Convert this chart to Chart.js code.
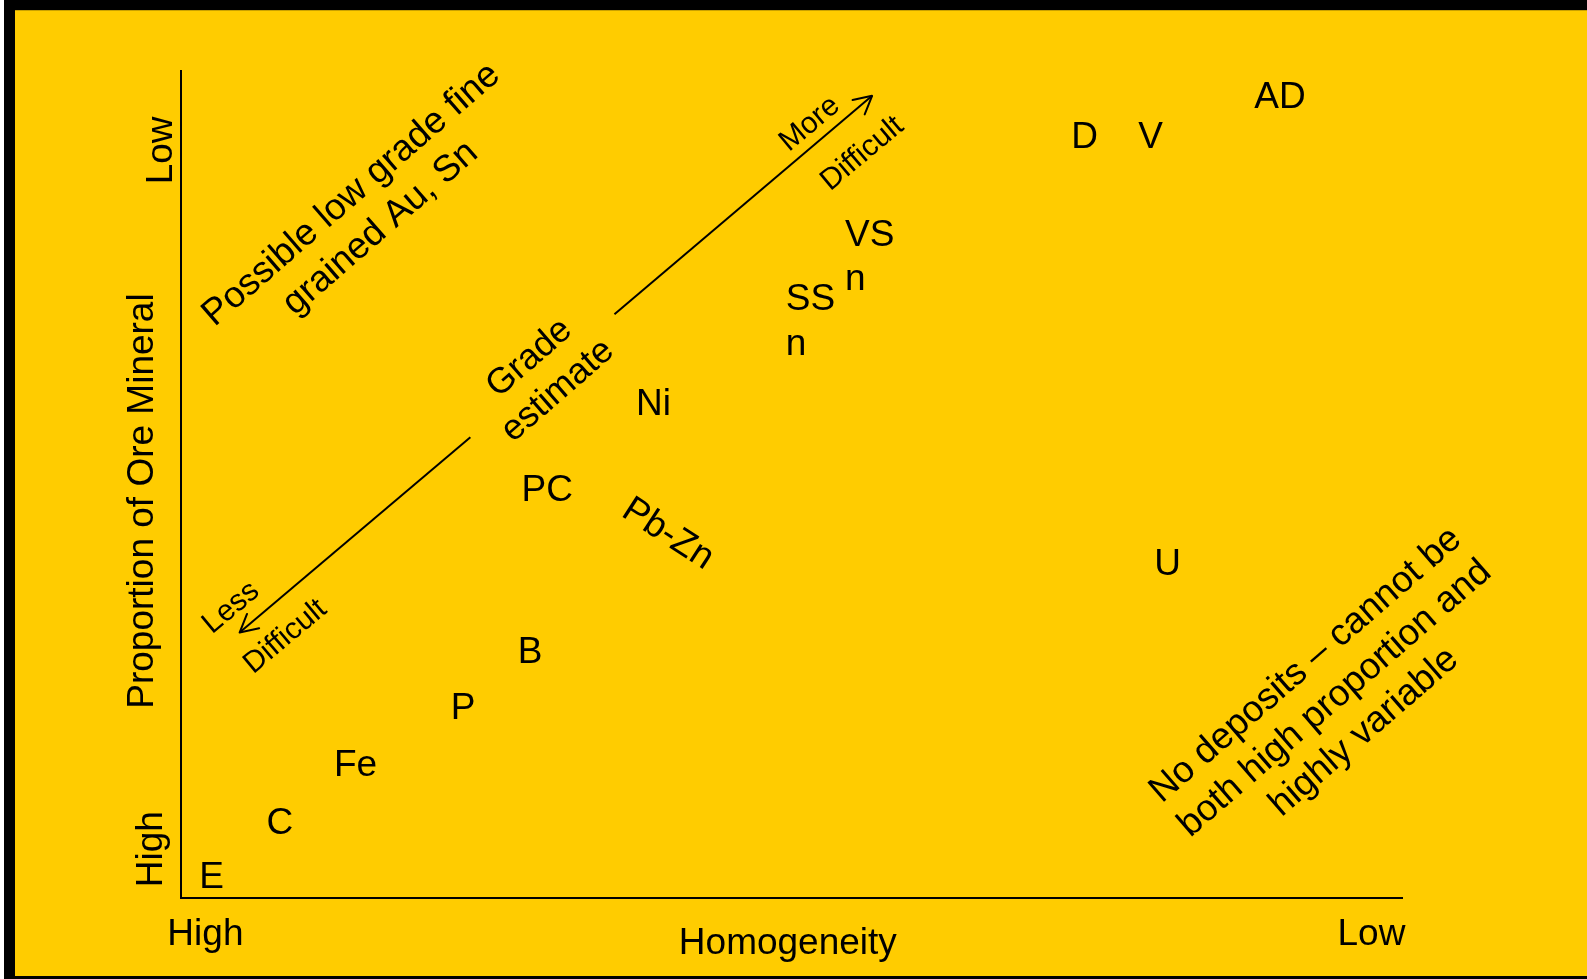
<!DOCTYPE html>
<html>
<head>
<meta charset="utf-8">
<script src="https://cdn.jsdelivr.net/npm/chart.js@4.4.0/dist/chart.umd.min.js"></script>
<style>
html,body{margin:0;padding:0;background:#fff;overflow:hidden}
#wrap{width:1587px;height:979px;position:relative}
canvas{display:block}
</style>
</head>
<body>
<div id="wrap"><canvas id="c" width="1587" height="979"></canvas></div>
<script>
// ---------------- data ----------------
const xTickValues = [0.2, 9.75];
const xTickLabels = ['High', 'Low'];
const yTickValues = [0.59, 9.04];
const yTickLabels = ['High', 'Low'];
const xAxisTitle = 'Homogeneity';
const yAxisTitle = 'Proportion of Ore Mineral';

const depositNames = ['E', 'C', 'Fe', 'P', 'B', 'PC', 'Ni', 'SS\nn', 'VS\nn', 'D', 'V', 'AD', 'U', 'Pb-Zn'];
const depositX = [0.25, 0.81, 1.43, 2.31, 2.86, 3.0, 3.87, 5.155, 5.64, 7.40, 7.94, 9.0, 8.08, 4.0];
const depositY = [0.28, 0.94, 1.63, 2.32, 3.0, 4.96, 6.0, 7.0, 7.78, 9.23, 9.23, 9.71, 4.06, 4.43];

const arrowUpX = [3.55, 5.66];
const arrowUpY = [7.06, 9.70];
const arrowDownX = [2.37, 0.48];
const arrowDownY = [5.57, 3.21];

const noteTexts = [
  'Possible low grade fine\ngrained Au, Sn',
  'Grade\nestimate',
  'More',
  'Difficult',
  'Less',
  'Difficult',
  'No deposits \u2013 cannot be\nboth high proportion and\nhighly variable'
];
const noteX = [1.515, 2.97, 5.15, 5.58, 0.41, 0.855, 9.45];
const noteY = [8.30, 6.33, 9.36, 9.0, 3.51, 3.16, 2.41];

// ---------------- styles ----------------
const FONT = '"Liberation Sans", Arial, Helvetica, sans-serif';
const depositStyle = { size: 37, angleFor: { 'Pb-Zn': 33 } };
const noteStyle = [
  { size: 37, angle: -41 },
  { size: 36, angle: -41 },
  { size: 30, angle: -40 },
  { size: 30, angle: -40 },
  { size: 30, angle: -40 },
  { size: 30, angle: -40 },
  { size: 37, angle: -41 }
];
const yTickGap = { High: 19, Low: 9 };

const bgPlugin = {
  id: 'bg',
  beforeDraw(chart) {
    const ctx = chart.ctx, W = chart.width, H = chart.height;
    ctx.save();
    ctx.fillStyle = '#ffffff'; ctx.fillRect(0, 0, W, H);
    ctx.fillStyle = '#000000'; ctx.fillRect(4, 0, W - 4, H);
    ctx.fillStyle = '#FFCC00'; ctx.fillRect(15, 10, W - 15, 966);
    ctx.fillStyle = '#C9A100'; ctx.fillRect(15, 10, W - 15, 1);
    ctx.restore();
  }
};

function drawBlock(ctx, text, x, y, size, angleDeg, align) {
  const lines = text.split('\n');
  const lh = size * 1.2;
  ctx.save();
  ctx.translate(x, y);
  ctx.rotate(angleDeg * Math.PI / 180);
  ctx.font = size + 'px ' + FONT;
  ctx.fillStyle = '#000';
  const n = lines.length;
  if (align === 'left') {
    const w = Math.max(...lines.map(l => ctx.measureText(l).width));
    ctx.textAlign = 'left';
    ctx.textBaseline = 'alphabetic';
    const cap = size * 0.716;
    lines.forEach((l, i) => ctx.fillText(l, -w / 2, cap / 2 + (i - (n - 1) / 2) * lh));
  } else {
    ctx.textAlign = 'center';
    ctx.textBaseline = 'middle';
    lines.forEach((l, i) => ctx.fillText(l, 0, (i - (n - 1) / 2) * lh));
  }
  ctx.restore();
}

const labelPlugin = {
  id: 'labels',
  afterDraw(chart) {
    const ctx = chart.ctx, xs = chart.scales.x, ys = chart.scales.y, ca = chart.chartArea;
    ctx.save();
    ctx.fillStyle = '#000';
    ctx.font = '37px ' + FONT;
    // x tick labels
    ctx.textAlign = 'center'; ctx.textBaseline = 'alphabetic';
    xs.ticks.forEach((t, i) => ctx.fillText(xTickLabels[i], xs.getPixelForValue(t.value), ca.bottom + 47));
    // x title
    ctx.fillText(xAxisTitle, xs.getPixelForValue(4.97), ca.bottom + 56);
    // y tick labels (rotated)
    ys.ticks.forEach((t, i) => {
      const lab = yTickLabels[i];
      ctx.save();
      ctx.translate(ca.left - yTickGap[lab], ys.getPixelForValue(t.value));
      ctx.rotate(-Math.PI / 2);
      ctx.textAlign = 'center'; ctx.textBaseline = 'alphabetic';
      ctx.fillText(lab, 0, 0);
      ctx.restore();
    });
    // y title
    ctx.save();
    ctx.translate(ca.left - 28, ys.getPixelForValue(4.80));
    ctx.rotate(-Math.PI / 2);
    ctx.textAlign = 'center'; ctx.textBaseline = 'alphabetic';
    ctx.fillText(yAxisTitle, 0, 0);
    ctx.restore();
    ctx.restore();

    // deposit labels
    const dep = chart.getDatasetMeta(0).data;
    dep.forEach((el, i) => {
      const name = depositNames[i];
      drawBlock(ctx, name, el.x, el.y, depositStyle.size, depositStyle.angleFor[name] || 0, 'left');
    });

    // notes
    const notes = chart.getDatasetMeta(3).data;
    notes.forEach((el, i) => drawBlock(ctx, noteTexts[i], el.x, el.y, noteStyle[i].size, noteStyle[i].angle, 'center'));

    // arrow heads
    [1, 2].forEach(di => {
      const pts = chart.getDatasetMeta(di).data;
      const a = pts[pts.length - 2], b = pts[pts.length - 1];
      const ang = Math.atan2(b.y - a.y, b.x - a.x);
      const L = 20, spread = 28 * Math.PI / 180;
      ctx.save();
      ctx.strokeStyle = '#000'; ctx.lineWidth = 2; ctx.lineCap = 'round'; ctx.lineJoin = 'round';
      ctx.beginPath();
      ctx.moveTo(b.x - L * Math.cos(ang - spread), b.y - L * Math.sin(ang - spread));
      ctx.lineTo(b.x, b.y);
      ctx.lineTo(b.x - L * Math.cos(ang + spread), b.y - L * Math.sin(ang + spread));
      ctx.stroke();
      ctx.restore();
    });
  }
};

const pts = (xa, ya) => xa.map((x, i) => ({ x: x, y: ya[i] }));

const axisCommon = {
  type: 'linear', min: 0, max: 10, display: true,
  grid: { display: false, drawTicks: false },
  border: { display: true, color: '#000', width: 2 },
  ticks: { display: false }
};

new Chart(document.getElementById('c'), {
  type: 'scatter',
  data: {
    datasets: [
      { label: 'Deposits', data: pts(depositX, depositY), pointRadius: 0, pointHoverRadius: 0 },
      { label: 'More difficult', data: pts(arrowUpX, arrowUpY), showLine: true, borderColor: '#000', borderWidth: 2, pointRadius: 0 },
      { label: 'Less difficult', data: pts(arrowDownX, arrowDownY), showLine: true, borderColor: '#000', borderWidth: 2, pointRadius: 0 },
      { label: 'Notes', data: pts(noteX, noteY), pointRadius: 0, pointHoverRadius: 0 }
    ]
  },
  options: {
    responsive: false,
    animation: false,
    events: [],
    layout: { padding: { left: 181, top: 71, right: 185, bottom: 81 } },
    plugins: { legend: { display: false }, tooltip: { enabled: false }, title: { display: false } },
    scales: {
      x: Object.assign({}, axisCommon, { position: 'bottom', afterBuildTicks: s => { s.ticks = xTickValues.map(v => ({ value: v })); } }),
      y: Object.assign({}, axisCommon, { position: 'left', afterBuildTicks: s => { s.ticks = yTickValues.map(v => ({ value: v })); } })
    }
  },
  plugins: [bgPlugin, labelPlugin]
});
</script>
</body>
</html>
